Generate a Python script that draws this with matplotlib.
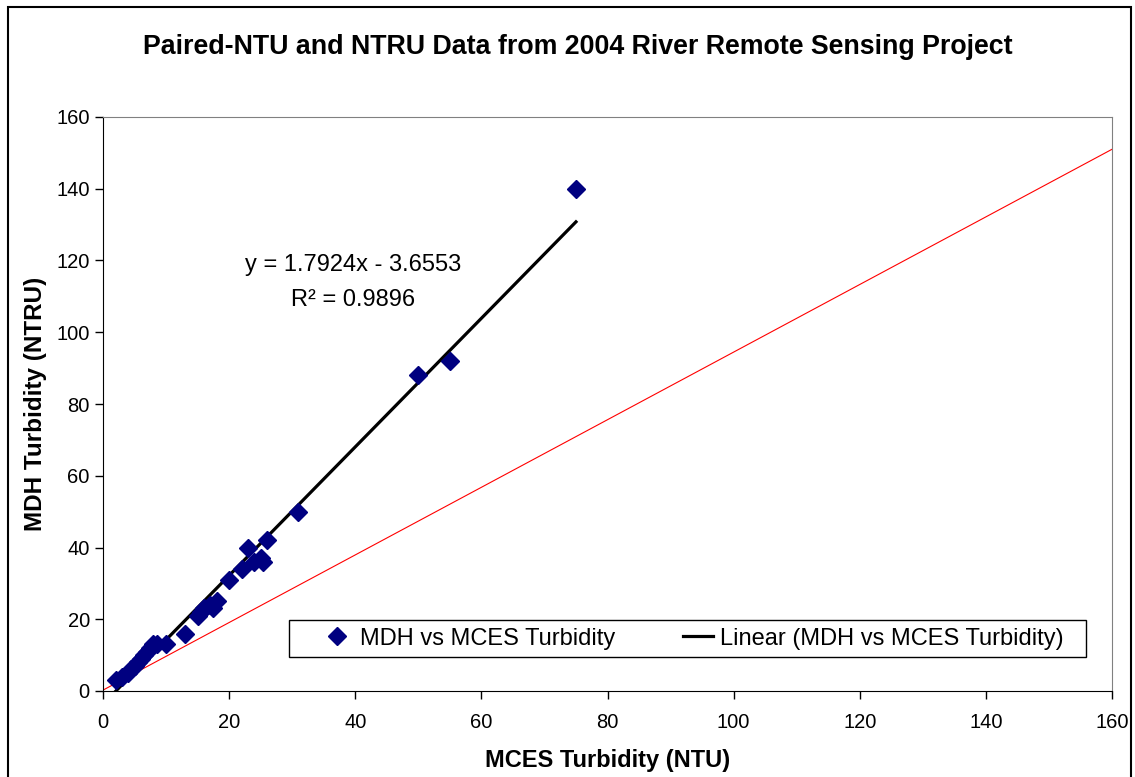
import matplotlib.pyplot as plt
import numpy as np
from matplotlib.patches import Rectangle

plt.rcParams['font.family'] = ['Liberation Sans', 'DejaVu Sans']

# paired samples: MCES (NTU) vs MDH (NTRU)
mces_ntu = [2, 3, 4, 4.5, 5, 5.5, 6, 6.5, 7, 7.5, 8, 8.5, 10, 13,
            15, 15.5, 16, 17, 17.5, 18, 20, 22, 23, 24, 25, 25.3, 26,
            31, 50, 55, 75]
mdh_ntru = [3, 4, 5, 6, 7, 8, 9, 10, 11, 12, 13, 13, 13, 16,
            21, 22, 23, 24, 23, 25, 31, 34, 40, 36, 37, 36, 42,
            50, 88, 92, 140]

# trendline coefficients (Excel linear fit)
slope = 1.7924
intercept = -3.6553
r2 = 0.9896

# reference line end points
ref_x = [-1, 160]
ref_y = [-0.7, 151]

x_ticks = [0, 20, 40, 60, 80, 100, 120, 140, 160]
y_ticks = [0, 20, 40, 60, 80, 100, 120, 140, 160]

fig = plt.figure(figsize=(11.35, 7.77), dpi=100)
ax = fig.add_axes([103/1135, 1-691/777, (1112-103)/1135, (691-117)/777])

# outer chart border
fig.add_artist(Rectangle((8/1135, -0.05), (1131-8)/1135, 1.05 - 7/777,
                         transform=fig.transFigure, fill=False,
                         edgecolor='black', linewidth=1.5))

ax.plot(ref_x, ref_y, color='red', linewidth=0.8, zorder=1, clip_on=True)

ax.plot(mces_ntu, mdh_ntru, linestyle='none', marker='D', markersize=9.5,
        color='#000080', label='MDH vs MCES Turbidity', zorder=3)

tx = np.array([min(mces_ntu), max(mces_ntu)])
ax.plot(tx, slope*tx + intercept, color='black', linewidth=2.3,
        label='Linear (MDH vs MCES Turbidity)', zorder=2)

ax.text(39.6, 118.7, 'y = %.4fx - %.4f' % (slope, -intercept), fontsize=17,
        ha='center', va='center')
ax.text(39.6, 109.0, 'R² = %.4f' % r2, fontsize=17, ha='center', va='center')

ax.set_xlim(0, 160)
ax.set_ylim(0, 160)
ax.set_xticks(x_ticks)
ax.set_yticks(y_ticks)
ax.tick_params(labelsize=14.5, direction='out', length=6, width=1)
ax.tick_params(axis='x', pad=10)

for side in ['top', 'right']:
    ax.spines[side].set_color('#808080')
for side in ['left', 'bottom']:
    ax.spines[side].set_color('black')

ax.set_xlabel('MCES Turbidity (NTU)', fontsize=17, fontweight='bold', labelpad=12)
ax.set_ylabel('MDH Turbidity (NTRU)', fontsize=17.5, fontweight='bold', labelpad=7)
fig.text(0.509, 1-47/777, 'Paired-NTU and NTRU Data from 2004 River Remote Sensing Project',
         fontsize=19.3, fontweight='bold', ha='center', va='center')

# legend box drawn separately so the entries can sit inset from its edges
ax.add_patch(Rectangle(((289-103)/1009, (691-657)/574), (1086-289)/1009, 37/574,
                       transform=ax.transAxes, fill=True, facecolor='white',
                       edgecolor='black', linewidth=1, zorder=4))
leg = ax.legend(loc='center left', bbox_to_anchor=((322-103)/1009, (691-638.5)/574,
                (1064-322)/1009, 0), mode='expand', ncol=2,
                fontsize=17, frameon=False, borderaxespad=0, borderpad=0,
                handlelength=1.3, columnspacing=1, handletextpad=0.3)
leg.set_zorder(5)

fig.savefig('out.png', dpi=100)
